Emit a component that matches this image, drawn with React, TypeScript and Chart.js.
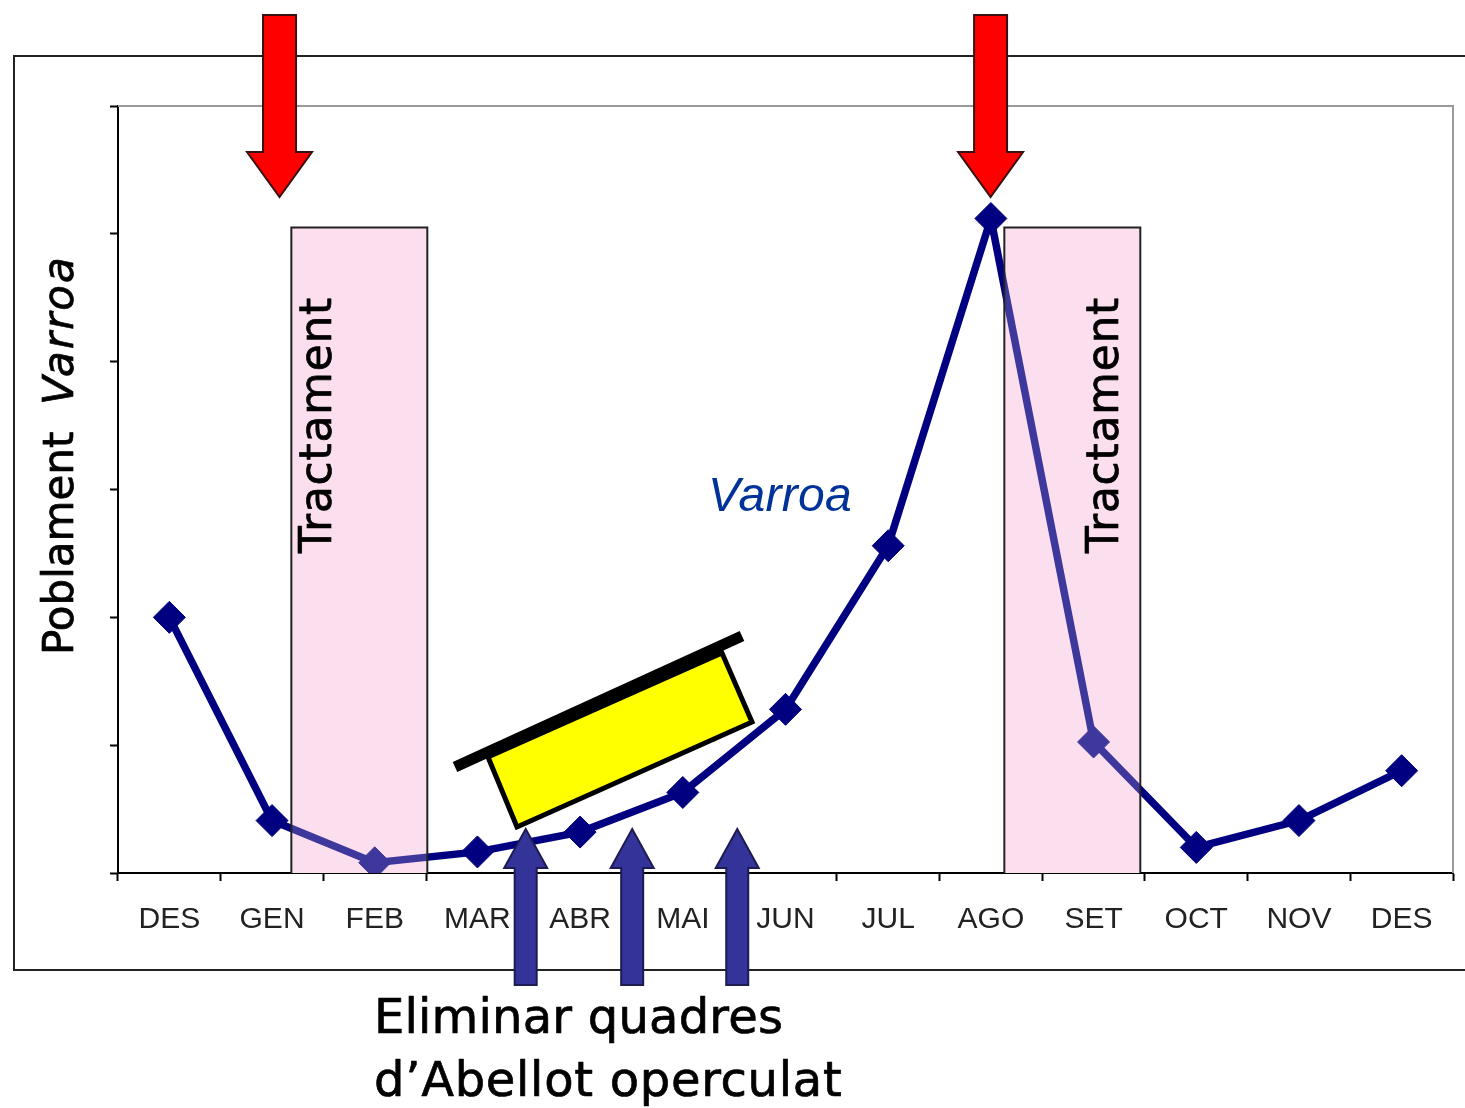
import React, { useEffect, useRef } from "react";
import { Chart, registerables } from "chart.js";

Chart.register(...registerables);

const months = ["DES", "GEN", "FEB", "MAR", "ABR", "MAI", "JUN", "JUL", "AGO", "SET", "OCT", "NOV", "DES"];
const varroa = [2.0, 0.41, 0.08, 0.165, 0.32, 0.63, 1.28, 2.56, 5.12, 1.025, 0.2, 0.41, 0.8];
const treatmentBands = [[1.188, 2.512], [8.131, 9.455]];
const bandLabelOffsets = [40, 114];
const bandTop = 5.05;
const redArrowMonths = [1.073, 7.997];
const blueArrowMonths = [3.47, 4.507, 5.53];
const bandLabel = "Tractament";
const yTitleMain = "Poblament";
const yTitleItalic = "Varroa";
const seriesLabel = "Varroa";
const noteLines = ["Eliminar quadres", "d\u2019Abellot operculat"];

const HAND = '"DejaVu Sans"';

const handText = (ctx: any, text: string, x: number, y: number) => {
  ctx.strokeStyle = "#000";
  ctx.lineWidth = 0.7;
  ctx.lineJoin = "round";
  ctx.fillText(text, x, y);
  ctx.strokeText(text, x, y);
};

const annotations = {
  id: "annotations",
  beforeDatasetsDraw(chart: any) {
    const { ctx, chartArea: a, scales } = chart;
    ctx.save();
    // outer frame
    ctx.strokeStyle = "#222";
    ctx.lineWidth = 2;
    ctx.beginPath();
    ctx.moveTo(1465, 56); ctx.lineTo(14, 56); ctx.lineTo(14, 970); ctx.lineTo(1465, 970);
    ctx.stroke();
    // plot top/right border
    ctx.strokeStyle = "#999";
    ctx.beginPath();
    ctx.moveTo(a.left, a.top); ctx.lineTo(a.right, a.top); ctx.lineTo(a.right, a.bottom);
    ctx.stroke();
    // treatment bands under the line
    ctx.fillStyle = "#FDDFEF";
    for (const [s, e] of treatmentBands) {
      const x0 = scales.x.getPixelForValue(s), x1 = scales.x.getPixelForValue(e);
      const y0 = scales.y.getPixelForValue(bandTop);
      ctx.fillRect(x0, y0, x1 - x0, a.bottom - y0);
    }
    ctx.restore();
  },
  afterDatasetsDraw(chart: any) {
    const { ctx, chartArea: a, scales } = chart;
    ctx.save();
    treatmentBands.forEach(([s, e], i) => {
      const x0 = scales.x.getPixelForValue(s), x1 = scales.x.getPixelForValue(e);
      const y0 = scales.y.getPixelForValue(bandTop);
      ctx.fillStyle = "rgba(253,223,239,0.25)";
      ctx.fillRect(x0, y0, x1 - x0, a.bottom - y0);
      ctx.strokeStyle = "#222";
      ctx.lineWidth = 2;
      ctx.beginPath();
      ctx.moveTo(x0, a.bottom); ctx.lineTo(x0, y0); ctx.lineTo(x1, y0); ctx.lineTo(x1, a.bottom);
      ctx.stroke();
      // band label
      ctx.save();
      ctx.translate(x0 + bandLabelOffsets[i], 553);
      ctx.rotate(-Math.PI / 2);
      ctx.fillStyle = "#000";
      ctx.font = `44px ${HAND}`;
      (ctx as any).letterSpacing = "0.7px";
      ctx.textAlign = "left";
      ctx.textBaseline = "alphabetic";
      handText(ctx, bandLabel, 0, 0);
      ctx.restore();
    });
    ctx.restore();
  },
  afterDraw(chart: any) {
    const { ctx, scales } = chart;
    ctx.save();
    // y title
    ctx.save();
    ctx.translate(73, 655);
    ctx.rotate(-Math.PI / 2);
    ctx.fillStyle = "#000";
    ctx.textBaseline = "alphabetic";
    (ctx as any).letterSpacing = "0px";
    ctx.font = `42px ${HAND}`;
    handText(ctx, yTitleMain, 0, 0);
    (ctx as any).letterSpacing = "2px";
    ctx.font = `italic 42px ${HAND}`;
    handText(ctx, yTitleItalic, 250, 0);
    ctx.restore();

    // series label
    ctx.fillStyle = "#003399";
    ctx.font = 'italic 48px "Liberation Sans"';
    ctx.textBaseline = "alphabetic";
    (ctx as any).letterSpacing = "0.3px";
    ctx.fillText(seriesLabel, 708, 511);
    (ctx as any).letterSpacing = "0px";

    // hive
    ctx.lineJoin = "miter";
    ctx.fillStyle = "#FFFF00";
    ctx.strokeStyle = "#000";
    ctx.lineWidth = 5;
    ctx.beginPath();
    ctx.moveTo(488, 757); ctx.lineTo(722, 653); ctx.lineTo(752, 722); ctx.lineTo(517, 827); ctx.closePath();
    ctx.fill(); ctx.stroke();
    ctx.lineWidth = 11;
    ctx.beginPath();
    ctx.moveTo(455, 767); ctx.lineTo(742, 636);
    ctx.stroke();

    // arrows
    const drawArrow = (points: number[][], fill: string, stroke: string) => {
      ctx.fillStyle = fill;
      ctx.strokeStyle = stroke;
      ctx.lineWidth = 2;
      ctx.lineJoin = "miter";
      ctx.beginPath();
      points.forEach(([x, y], i) => (i ? ctx.lineTo(x, y) : ctx.moveTo(x, y)));
      ctx.closePath();
      ctx.fill();
      ctx.stroke();
    };
    for (const m of redArrowMonths) {
      const c = scales.x.getPixelForValue(m);
      drawArrow(
        [[c - 16.5, 15], [c + 16.5, 15], [c + 16.5, 152], [c + 32.5, 152], [c, 197], [c - 32.5, 152], [c - 16.5, 152]],
        "#FF0000", "#3a1010"
      );
    }
    for (const m of blueArrowMonths) {
      const c = scales.x.getPixelForValue(m);
      drawArrow(
        [[c, 829], [c + 21.5, 868], [c + 11, 868], [c + 11, 985], [c - 11, 985], [c - 11, 868], [c - 21.5, 868]],
        "#333399", "#1c1c50"
      );
    }

    // note
    ctx.fillStyle = "#000";
    ctx.font = `48px ${HAND}`;
    ctx.textBaseline = "alphabetic";
    (ctx as any).letterSpacing = "0.2px";
    handText(ctx, noteLines[0], 374, 1033);
    (ctx as any).letterSpacing = "0.7px";
    handText(ctx, noteLines[1], 374, 1096);
    ctx.restore();
  },
};

export default function App() {
  const ref = useRef<HTMLCanvasElement>(null);
  useEffect(() => {
    const chart = new Chart(ref.current as HTMLCanvasElement, {
      type: "line",
      data: {
        labels: months,
        datasets: [
          {
            label: seriesLabel,
            data: varroa,
            borderColor: "#000080",
            backgroundColor: "#000080",
            borderWidth: 7.5,
            pointStyle: "rectRot",
            pointRadius: 16,
            pointBorderWidth: 1,
            tension: 0,
            fill: false,
          },
        ],
      },
      options: {
        responsive: false,
        animation: false,
        layout: { autoPadding: false, padding: { left: 0, top: 106, right: 12, bottom: 0 } },
        plugins: { legend: { display: false }, tooltip: { enabled: false }, title: { display: false } },
        scales: {
          x: {
            type: "category",
            offset: true,
            grid: { display: true, drawOnChartArea: false, offset: true, tickLength: 8, tickColor: "#000", tickWidth: 2 },
            border: { color: "#000", width: 2 },
            ticks: {
              autoSkip: false,
              maxRotation: 0,
              color: "#222",
              padding: 21,
              font: { family: '"Liberation Sans"', size: 30 },
            },
            afterFit(s: any) { s.height = 235; s.paddingLeft = 0; s.paddingRight = 0; },
          },
          y: {
            min: 0,
            max: 6,
            grid: { display: true, drawOnChartArea: false, tickLength: 8, tickColor: "#000", tickWidth: 2 },
            border: { color: "#000", width: 2 },
            ticks: { stepSize: 1, display: false },
            afterFit(s: any) { s.width = 118; },
          },
        },
      },
      plugins: [annotations],
    } as any);
    return () => chart.destroy();
  }, []);
  return (
    <canvas
      ref={ref}
      width={1465}
      height={1108}
      style={{ position: "absolute", left: 0, top: 0, width: 1465, height: 1108 }}
    />
  );
}
